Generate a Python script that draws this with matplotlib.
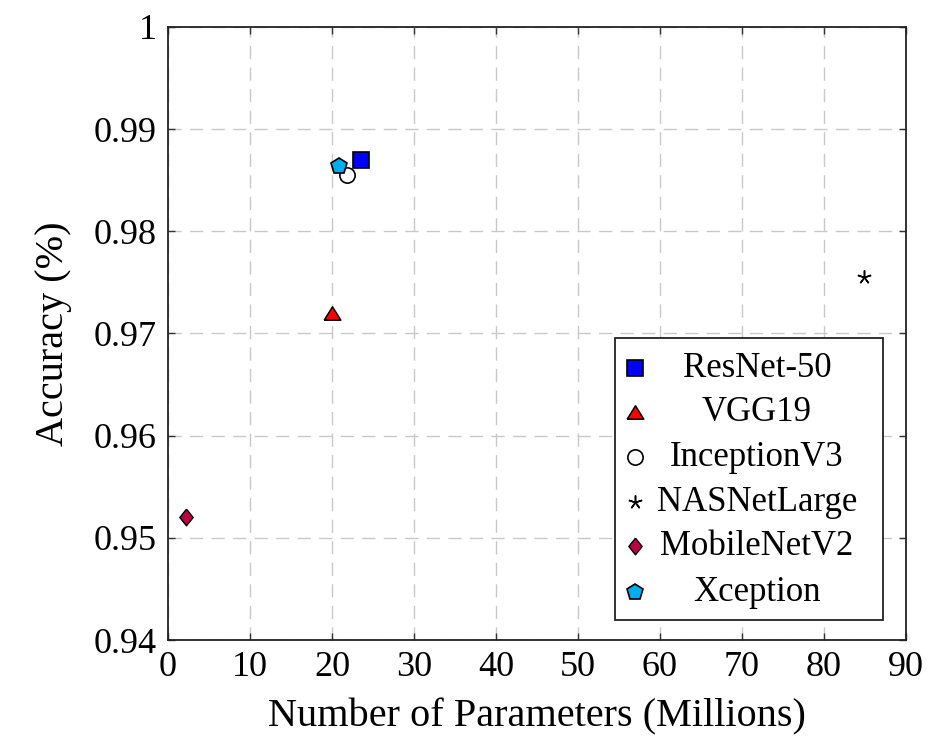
import matplotlib
matplotlib.use("Agg")
import matplotlib.pyplot as plt
from matplotlib.patches import Rectangle

# Modelle: Parameteranzahl (Mio.) und Genauigkeit
models = ["ResNet-50", "VGG19", "InceptionV3", "NASNetLarge", "MobileNetV2", "Xception"]
params = [23.6, 20.0, 21.8, 84.9, 2.2, 20.9]
accuracy = [0.987, 0.972, 0.9855, 0.9755, 0.952, 0.9864]

# eigene Formen fuer Dreieck und Raute
tri = [(-1, -0.8), (1, -0.8), (0, 0.8), (-1, -0.8)]
diamond = [(0, 1), (0.8, 0), (0, -1), (-0.8, 0), (0, 1)]

markers = ["s", tri, "o", (5, 2, 0), diamond, "p"]
faces = ["#0000ff", "#ff0000", "#ffffff", "#000000", "#bf0040", "#00aeef"]
sizes = [12, 12, 11, 10, 12, 12]
edge_w = [1.2, 1.1, 1.2, 1.1, 1.0, 1.2]

plt.rcParams["font.family"] = ["Liberation Serif", "DejaVu Serif"]

fig = plt.figure(figsize=(9.29, 7.45), dpi=100)
ax = fig.add_axes([0.1808, 0.1409, 0.7944, 0.8229])

for i in range(len(models)):
    ax.plot(params[i], accuracy[i], marker=markers[i], markersize=sizes[i],
            markerfacecolor=faces[i], markeredgecolor="black", markeredgewidth=edge_w[i],
            linestyle="none", zorder=3)

ax.set_xlim(0, 90)
ax.set_ylim(0.94, 1.0)
ax.set_xticks(range(0, 91, 10))
ax.set_yticks([0.94, 0.95, 0.96, 0.97, 0.98, 0.99, 1.0])
ax.set_yticklabels(["0.94", "0.95", "0.96", "0.97", "0.98", "0.99", "1"])

ax.grid(True, color="#c8c8c8", linewidth=1.0, linestyle=(0, (9.5, 6)))
ax.set_axisbelow(True)

ax.tick_params(direction="in", length=5, width=1.0, top=True, right=True,
               labelsize=26, pad=8, color="#333333")
for s in ax.spines.values():
    s.set_linewidth(1.3)
    s.set_color("#222222")

ax.set_xlabel("Number of Parameters (Millions)", fontsize=29, labelpad=10)
ax.set_ylabel("Accuracy (%)", fontsize=29, labelpad=16)

# Legende von Hand, Text zentriert
box = Rectangle((0.6057, 0.0326), 0.3631, 0.4601, transform=ax.transAxes,
                facecolor="white", edgecolor="#222222", linewidth=1.3, zorder=4)
ax.add_patch(box)
row_y = [0.4437, 0.3719, 0.2985, 0.2251, 0.1533, 0.0783]
for i in range(len(models)):
    ax.plot(0.6328, row_y[i], marker=markers[i], markersize=sizes[i],
            markerfacecolor=faces[i], markeredgecolor="black", markeredgewidth=edge_w[i],
            transform=ax.transAxes, linestyle="none", zorder=5, clip_on=False)
    ax.text(0.798, row_y[i], models[i], transform=ax.transAxes, ha="center", va="center",
            fontsize=25, zorder=5)

fig.savefig("out.png", dpi=100)
